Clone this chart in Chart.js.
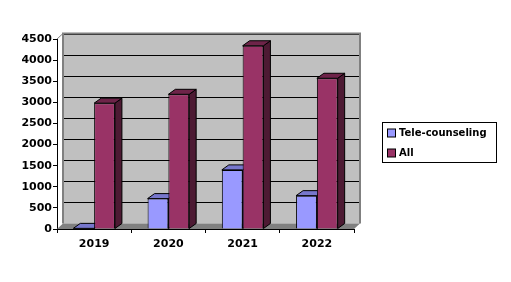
<!DOCTYPE html>
<html>
<head>
<meta charset="utf-8">
<script src="https://cdn.jsdelivr.net/npm/chart.js@4"></script>
<style>
  html, body { margin: 0; padding: 0; background: #ffffff; }
  #wrap { width: 511px; height: 282px; position: relative; }
</style>
</head>
<body>
<div id="wrap"><canvas id="chart"></canvas></div>
<script>
// data
const years = ['2019', '2020', '2021', '2022'];
const tele_counseling = [15, 720, 1400, 790];
const all_cases = [2980, 3190, 4340, 3570];
const y_ticks = [0, 500, 1000, 1500, 2000, 2500, 3000, 3500, 4000, 4500];

const series_names = ['Tele-counseling', 'All'];
const front_colors = ['#9999ff', '#993366'];
const top_colors = ['#7777cc', '#6e2449'];
const side_colors = ['#5c5c99', '#4d1a33'];

// depth of the fake 3d look
const bar_dx = 7, bar_dy = 5;
const wall_dx = 6, wall_dy = 5.5;

const fontFamily = '"DejaVu Sans", Verdana, sans-serif';

// back wall, floor and the gridlines on it
const wallPlugin = {
    id: 'wall3d',
    beforeDatasetsDraw(chart){
        const ctx = chart.ctx;
        const y = chart.scales.y;
        const area = chart.chartArea;

        ctx.save();

        // back wall
        ctx.fillStyle = '#c0c0c0';
        ctx.fillRect(area.left + wall_dx, area.top - wall_dy, area.right - area.left, area.bottom - area.top);

        // gridlines
        ctx.strokeStyle = '#000000';
        ctx.lineWidth = 1;
        y_ticks.forEach(v => {
            if(v === 0) return;
            let py = Math.round(y.getPixelForValue(v) - wall_dy) + 0.5;
            ctx.beginPath();
            ctx.moveTo(area.left + wall_dx, py);
            ctx.lineTo(area.right + wall_dx, py);
            ctx.stroke();
        });

        // wall edges
        ctx.strokeStyle = '#808080';
        ctx.lineWidth = 2;
        ctx.beginPath();
        ctx.moveTo(area.left + wall_dx, area.bottom - wall_dy);
        ctx.lineTo(area.left + wall_dx, area.top - wall_dy);
        ctx.lineTo(area.right + wall_dx, area.top - wall_dy);
        ctx.lineTo(area.right + wall_dx, area.bottom - wall_dy);
        ctx.stroke();

        ctx.lineWidth = 1;
        ctx.beginPath();
        ctx.moveTo(area.left, area.top);
        ctx.lineTo(area.left + wall_dx, area.top - wall_dy);
        ctx.stroke();

        // floor
        ctx.fillStyle = '#808080';
        ctx.beginPath();
        ctx.moveTo(area.left, area.bottom);
        ctx.lineTo(area.left + wall_dx, area.bottom - wall_dy);
        ctx.lineTo(area.right + wall_dx, area.bottom - wall_dy);
        ctx.lineTo(area.right, area.bottom);
        ctx.closePath();
        ctx.fill();

        // top and side faces of the bars
        ctx.strokeStyle = '#000000';
        ctx.lineWidth = 1;
        chart.data.datasets.forEach((ds, i) => {
            chart.getDatasetMeta(i).data.forEach(bar => {
                let l = bar.x - bar.width / 2;
                let r = bar.x + bar.width / 2;
                let t = bar.y;
                let b = bar.base;

                ctx.fillStyle = side_colors[i];
                ctx.beginPath();
                ctx.moveTo(r, t);
                ctx.lineTo(r + bar_dx, t - bar_dy);
                ctx.lineTo(r + bar_dx, b - bar_dy);
                ctx.lineTo(r, b);
                ctx.closePath();
                ctx.fill();
                ctx.stroke();

                ctx.fillStyle = top_colors[i];
                ctx.beginPath();
                ctx.moveTo(l, t);
                ctx.lineTo(l + bar_dx, t - bar_dy);
                ctx.lineTo(r + bar_dx, t - bar_dy);
                ctx.lineTo(r, t);
                ctx.closePath();
                ctx.fill();
                ctx.stroke();
            });
        });

        ctx.restore();
    },
    afterDraw(chart){
        const ctx = chart.ctx;
        ctx.save();

        // legend box
        let bx = 382.5, by = 122.5, bw = 114, bh = 40;
        ctx.fillStyle = '#ffffff';
        ctx.fillRect(bx, by, bw, bh);
        ctx.strokeStyle = '#000000';
        ctx.lineWidth = 1;
        ctx.strokeRect(bx, by, bw, bh);

        ctx.font = 'bold 10px ' + fontFamily;
        ctx.textBaseline = 'middle';
        series_names.forEach((name, i) => {
            let cy = 133 + i * 20;
            ctx.fillStyle = front_colors[i];
            ctx.fillRect(387.5, cy - 4, 8, 8);
            ctx.strokeRect(387.5, cy - 4, 8, 8);
            ctx.fillStyle = '#000000';
            ctx.fillText(name, 399, cy + 0.5);
        });

        ctx.restore();
    }
};

new Chart(document.getElementById('chart'), {
    type: 'bar',
    data: {
        labels: years,
        datasets: [
            {
                label: series_names[0],
                data: tele_counseling,
                backgroundColor: front_colors[0],
                borderColor: '#000000',
                borderWidth: 1,
                categoryPercentage: 0.56,
                barPercentage: 1
            },
            {
                label: series_names[1],
                data: all_cases,
                backgroundColor: front_colors[1],
                borderColor: '#000000',
                borderWidth: 1,
                categoryPercentage: 0.56,
                barPercentage: 1
            }
        ]
    },
    options: {
        responsive: true,
        maintainAspectRatio: false,
        animation: false,
        layout: { padding: { top: 39, left: 0, right: 157, bottom: 0 } },
        plugins: {
            legend: { display: false },
            tooltip: { enabled: false }
        },
        scales: {
            x: {
                grid: {
                    display: true,
                    drawOnChartArea: false,
                    offset: true,
                    tickLength: 4,
                    color: '#000000'
                },
                border: { color: '#000000', width: 1 },
                ticks: {
                    color: '#000000',
                    padding: 5,
                    maxRotation: 0,
                    font: { family: fontFamily, size: 11, weight: 'bold' }
                },
                afterFit: s => { s.height = 53; }
            },
            y: {
                min: 0,
                max: 4500,
                grid: {
                    display: true,
                    drawOnChartArea: false,
                    tickLength: 4,
                    color: '#000000'
                },
                border: { color: '#000000', width: 1 },
                ticks: {
                    stepSize: 500,
                    color: '#000000',
                    padding: 1,
                    callback: v => String(v),
                    font: { family: fontFamily, size: 11, weight: 'bold' }
                },
                afterFit: s => { s.width = 57; }
            }
        }
    },
    plugins: [wallPlugin]
});
</script>
</body>
</html>
